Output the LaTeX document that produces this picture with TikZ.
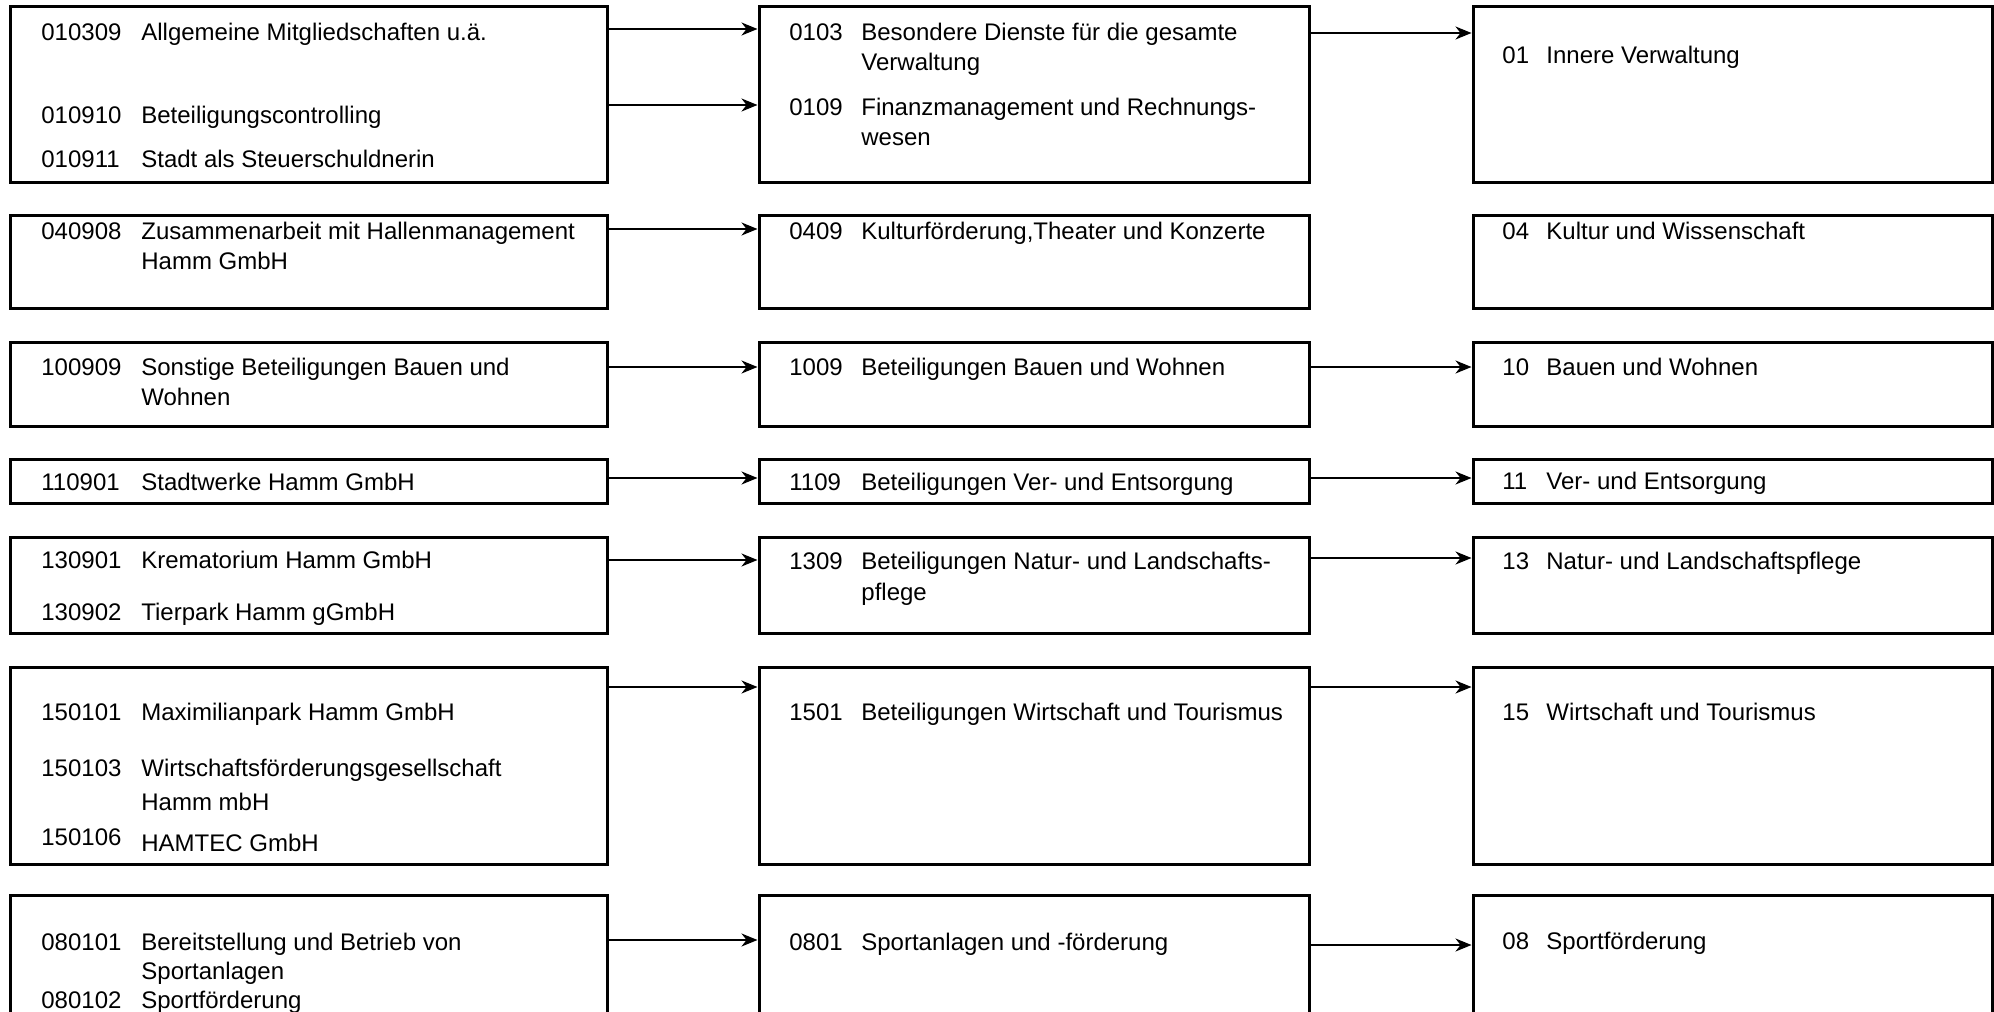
\documentclass[tikz,border=0pt]{standalone}
\usepackage{fontspec}
\setmainfont{Liberation Sans}
\usetikzlibrary{arrows.meta,fit}
\newcommand{\fsz}{\fontsize{12}{14}\selectfont}
\newcommand{\cw}[2]{\makebox[#1][l]{#2}}
\newcommand{\cL}[1]{\cw{50pt}{#1}}
\newcommand{\cM}[1]{\cw{36pt}{#1}}
\newcommand{\cR}[1]{\cw{22pt}{#1}}
\begin{document}
\begin{tikzpicture}[x=0.5pt,y=-0.5pt,
  box/.style={draw,line width=1.5pt,inner sep=0pt},
  txt/.style={anchor=base west,inner sep=0pt,font=\fsz},
  arr/.style={-{Stealth[length=8pt,width=6.5pt,inset=2.5pt]},line width=0.75pt}]
\useasboundingbox (0,0) rectangle (1994,1012);
\clip (0,0) rectangle (1994,1012);
\fill[white] (0,0) rectangle (1994,1012);
% boxes
\node[box,fit={(10,6)(607,182)}] (L1) {};
\node[box,fit={(759,6)(1309,182)}] (M1) {};
\node[box,fit={(1473,6)(1992,182)}] (R1) {};
\node[box,fit={(10,215)(607,308)}] (L2) {};
\node[box,fit={(759,215)(1309,308)}] (M2) {};
\node[box,fit={(1473,215)(1992,308)}] (R2) {};
\node[box,fit={(10,342)(607,426)}] (L3) {};
\node[box,fit={(759,342)(1309,426)}] (M3) {};
\node[box,fit={(1473,342)(1992,426)}] (R3) {};
\node[box,fit={(10,459)(607,503)}] (L4) {};
\node[box,fit={(759,459)(1309,503)}] (M4) {};
\node[box,fit={(1473,459)(1992,503)}] (R4) {};
\node[box,fit={(10,537)(607,633)}] (L5) {};
\node[box,fit={(759,537)(1309,633)}] (M5) {};
\node[box,fit={(1473,537)(1992,633)}] (R5) {};
\node[box,fit={(10,667)(607,864)}] (L6) {};
\node[box,fit={(759,667)(1309,864)}] (M6) {};
\node[box,fit={(1473,667)(1992,864)}] (R6) {};
\node[box,fit={(10,895)(607,1040)}] (L7) {};
\node[box,fit={(759,895)(1309,1040)}] (M7) {};
\node[box,fit={(1473,895)(1992,1040)}] (R7) {};
% left texts
\node[txt] (l1a) at (41,40.5) {\cL{010309}Allgemeine Mitgliedschaften u.ä.};
\node[txt] (l1b) at (41,123.5) {\cL{010910}Beteiligungscontrolling};
\node[txt] (l1c) at (41,167.5) {\cL{010911}Stadt als Steuerschuldnerin};
\node[txt] (l2a) at (41,239.5) {\cL{040908}Zusammenarbeit mit Hallenmanagement};
\node[txt] (l2b) at (141,269.5) {Hamm GmbH};
\node[txt] (l3a) at (41,375.5) {\cL{100909}Sonstige Beteiligungen Bauen und};
\node[txt] (l3b) at (141,405.5) {Wohnen};
\node[txt] (l4a) at (41,490.5) {\cL{110901}Stadtwerke Hamm GmbH};
\node[txt] (l5a) at (41,568.5) {\cL{130901}Krematorium Hamm GmbH};
\node[txt] (l5b) at (41,620.5) {\cL{130902}Tierpark Hamm gGmbH};
\node[txt] (l6a) at (41,720.5) {\cL{150101}Maximilianpark Hamm GmbH};
\node[txt] (l6b) at (41,776.5) {\cL{150103}Wirtschaftsförderungsgesellschaft};
\node[txt] (l6c) at (141,810.5) {Hamm mbH};
\node[txt] (l6d) at (41,845.5) {150106};
\node[txt] (l6e) at (141,851.5) {HAMTEC GmbH};
\node[txt] (l7a) at (41,950.5) {\cL{080101}Bereitstellung und Betrieb von};
\node[txt] (l7b) at (141,979.5) {Sportanlagen};
\node[txt] (l7c) at (41,1008.5) {\cL{080102}Sportförderung};
% middle texts
\node[txt] (m1a) at (789,40.5) {\cM{0103}Besondere Dienste für die gesamte};
\node[txt] (m1b) at (861,70.5) {Verwaltung};
\node[txt] (m1c) at (789,115.5) {\cM{0109}Finanzmanagement und Rechnungs-};
\node[txt] (m1d) at (861,145.5) {wesen};
\node[txt] (m2a) at (789,239.5) {\cM{0409}Kulturförderung,Theater und Konzerte};
\node[txt] (m3a) at (789,375.5) {\cM{1009}Beteiligungen Bauen und Wohnen};
\node[txt] (m4a) at (789,490.5) {\cM{1109}Beteiligungen Ver- und Entsorgung};
\node[txt] (m5a) at (789,569.5) {\cM{1309}Beteiligungen Natur- und Landschafts-};
\node[txt] (m5b) at (861,600.5) {pflege};
\node[txt] (m6a) at (789,720.5) {\cM{1501}Beteiligungen Wirtschaft und Tourismus};
\node[txt] (m7a) at (789,950.5) {\cM{0801}Sportanlagen und -förderung};
% right texts
\node[txt] (r1a) at (1502,63.5) {\cR{01}Innere Verwaltung};
\node[txt] (r2a) at (1502,239.5) {\cR{04}Kultur und Wissenschaft};
\node[txt] (r3a) at (1502,375) {\cR{10}Bauen und Wohnen};
\node[txt] (r4a) at (1502,489) {\cR{11}Ver- und Entsorgung};
\node[txt] (r5a) at (1502,569.5) {\cR{13}Natur- und Landschaftspflege};
\node[txt] (r6a) at (1502,720) {\cR{15}Wirtschaft und Tourismus};
\node[txt] (r7a) at (1502,949) {\cR{08}Sportförderung};
% arrow heights
\coordinate (a1) at (0,29);
\coordinate (a2) at (0,105);
\coordinate (b1) at (0,33);
\coordinate (a3) at (0,229);
\coordinate (a4) at (0,367);
\coordinate (a5) at (0,478);
\coordinate (a6) at (0,560);
\coordinate (b6) at (0,558);
\coordinate (a7) at (0,687);
\coordinate (a8) at (0,940);
\coordinate (b8) at (0,945);
% arrows
\draw[arr] (L1.east |- a1) -- (M1.west |- a1);
\draw[arr] (L1.east |- a2) -- (M1.west |- a2);
\draw[arr] (M1.east |- b1) -- (R1.west |- b1);
\draw[arr] (L2.east |- a3) -- (M2.west |- a3);
\draw[arr] (L3.east |- a4) -- (M3.west |- a4);
\draw[arr] (M3.east |- a4) -- (R3.west |- a4);
\draw[arr] (L4.east |- a5) -- (M4.west |- a5);
\draw[arr] (M4.east |- a5) -- (R4.west |- a5);
\draw[arr] (L5.east |- a6) -- (M5.west |- a6);
\draw[arr] (M5.east |- b6) -- (R5.west |- b6);
\draw[arr] (L6.east |- a7) -- (M6.west |- a7);
\draw[arr] (M6.east |- a7) -- (R6.west |- a7);
\draw[arr] (L7.east |- a8) -- (M7.west |- a8);
\draw[arr] (M7.east |- b8) -- (R7.west |- b8);
\end{tikzpicture}
\end{document}
